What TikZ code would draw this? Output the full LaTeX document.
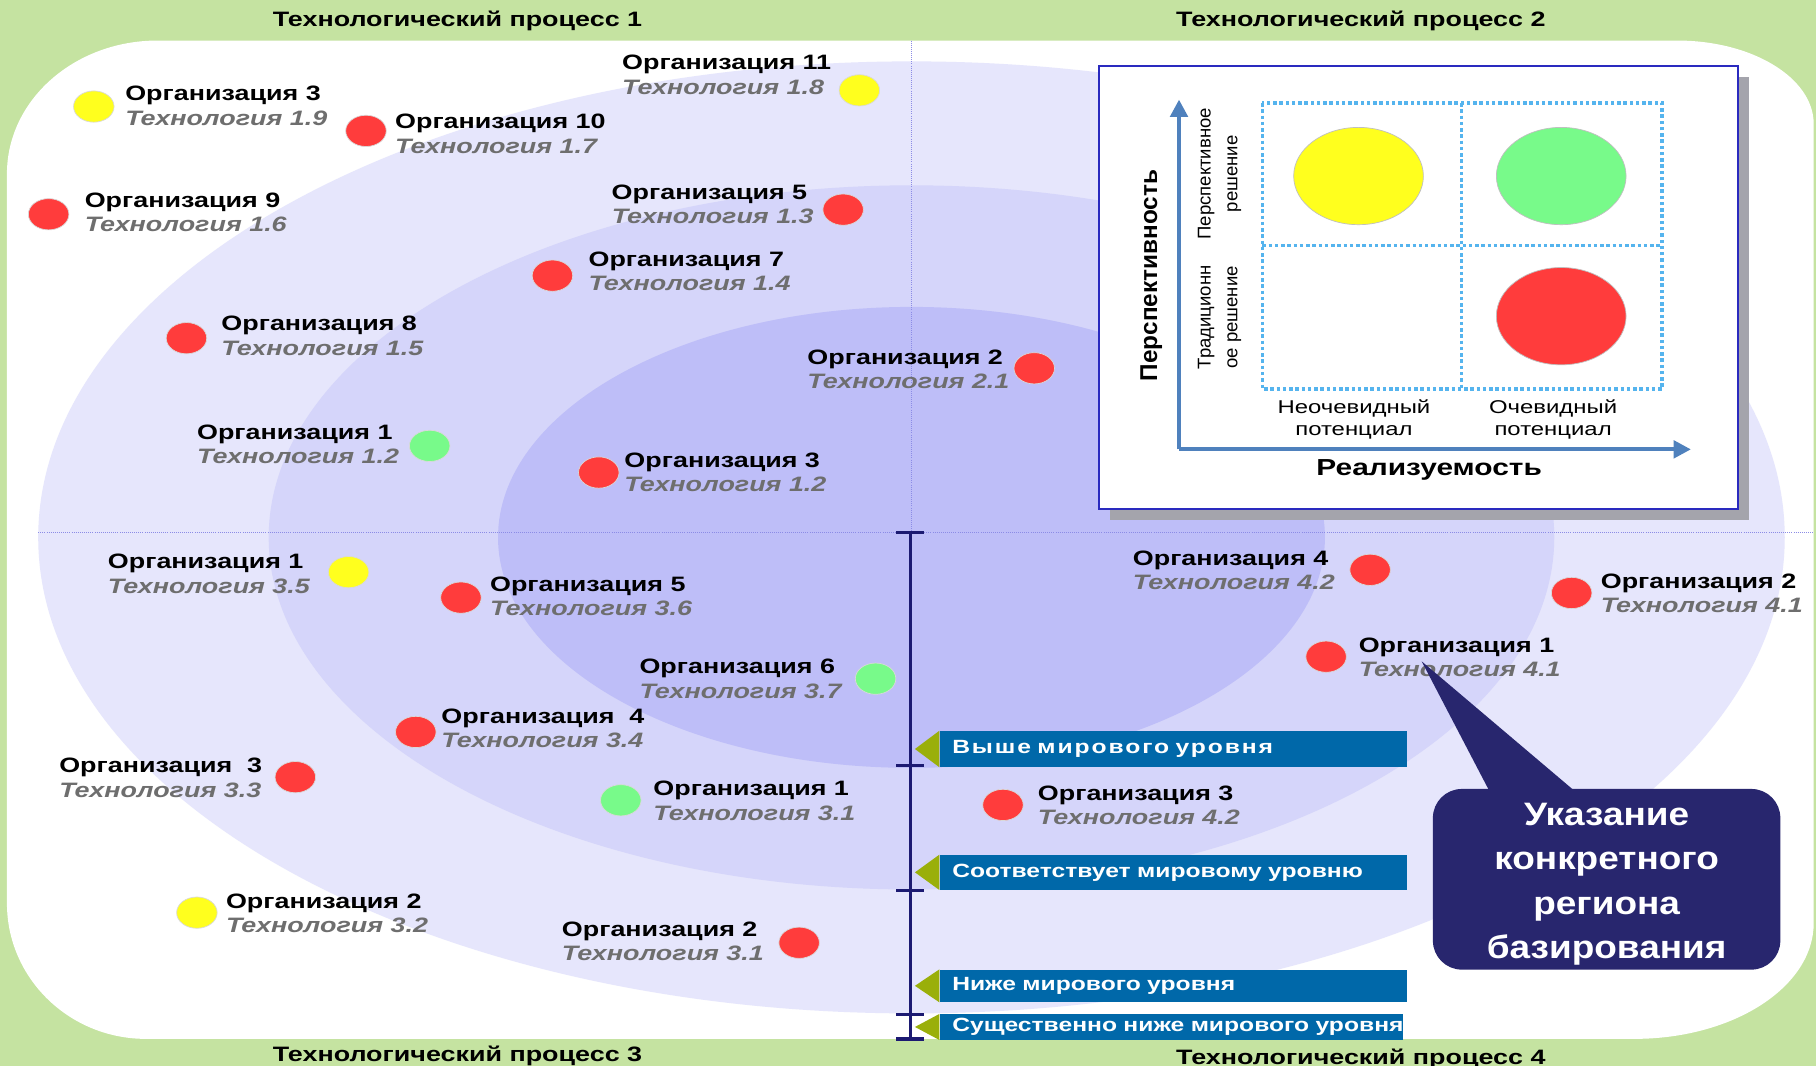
\documentclass[tikz,border=0pt]{standalone}
\usepackage{fontspec}
\setmainfont{Liberation Sans}
\newfontfamily\widefont{Liberation Sans}[FakeStretch=1.29]
\newfontfamily\wideloose{Liberation Sans}[FakeStretch=1.29,LetterSpace=10]
\newfontfamily\callfont{Liberation Sans}[FakeStretch=1.14]
\usetikzlibrary{shapes.geometric,arrows.meta}
\definecolor{bggreen}{HTML}{C5E3A1}
\definecolor{ringA}{HTML}{E6E6FC}
\definecolor{ringB}{HTML}{D5D5FA}
\definecolor{ringC}{HTML}{BEBEF8}
\definecolor{dotred}{HTML}{FF3C3C}
\definecolor{dotyellow}{HTML}{FFFF1E}
\definecolor{dotgreen}{HTML}{78FA8A}
\definecolor{techgray}{HTML}{6E6E6E}
\definecolor{bannerblue}{HTML}{0068A9}
\definecolor{tipgreen}{HTML}{9AAF0A}
\definecolor{navyline}{HTML}{1C1A72}
\definecolor{axisline}{HTML}{8C8CE6}
\definecolor{insetblue}{HTML}{2A2ABF}
\definecolor{axisblue}{HTML}{4F81BD}
\definecolor{griddot}{HTML}{55B4EE}
\definecolor{callnavy}{HTML}{28266E}
\definecolor{shadowgray}{HTML}{A4A4AC}
\newcommand\orgtext[2]{\textbf{#1}\\{\color{techgray}\bfseries\itshape #2}}
\begin{document}
\begin{tikzpicture}[x=1pt,y=-1pt,
  dotshape/.style={ellipse, inner sep=0pt, minimum width=35pt, minimum height=27pt, draw=black!15, line width=0.6pt},
  rdot/.style={dotshape, fill=dotred},
  ydot/.style={dotshape, fill=dotyellow},
  gdot/.style={dotshape, fill=dotgreen},
  orglab/.style={anchor=west, align=left, inner sep=0pt, font=\widefont\fontsize{18}{21}\selectfont},
  proctitle/.style={inner sep=0pt, font=\widefont\bfseries\fontsize{18}{20}\selectfont},
  banner/.style={fill=bannerblue, text=white, anchor=north west, inner xsep=11pt, inner ysep=0pt, text width=#1, align=left, font=\widefont\bfseries\fontsize{16.5}{18}\selectfont},
  tick/.style={navyline, line width=2.8pt},
  bigell/.style={ellipse, inner sep=0pt, minimum width=112pt, minimum height=84pt, draw=black!25, line width=0.6pt},
  rottext/.style={rotate=90, align=center, inner sep=0pt},
  gridline/.style={griddot, line width=3pt, dash pattern=on 3pt off 2.4pt},
  axisarrow/.style={axisblue, line width=3.5pt, -{Triangle[length=15pt,width=15pt]}}
]
\useasboundingbox (0,0) rectangle (1568,920);
\fill[bggreen] (0,0) rectangle (1568,920);
% white rounded panel
\fill[white] (6,150) .. controls (6,86.5) and (64.2,35) .. (136,35) -- (1448,35)
  .. controls (1513.1,35) and (1566,67.3) .. (1566,107) -- (1566,797)
  .. controls (1566,852.2) and (1496.6,897) .. (1411,897) -- (126,897)
  .. controls (59.8,897) and (6,844.6) .. (6,780) -- cycle;
% rings
\fill[ringA] (787,464) ellipse [x radius=754pt, y radius=411pt];
\fill[ringB] (787,464) ellipse [x radius=555pt, y radius=304pt];
\fill[ringC] (787,464) ellipse [x radius=357pt, y radius=199pt];
% dotted axes
\coordinate (hl) at (33,460);
\coordinate (hr) at (1566,460);
\coordinate (vt) at (787,35);
\coordinate (vc) at (787,460);
\draw[axisline, line width=0.8pt, densely dotted] (hl) -- (hr);
\draw[axisline, line width=0.8pt, densely dotted] (vt) -- (vc);
% titles
\node[proctitle] (t1) at (395,18) {Технологический процесс 1};
\node[proctitle] (t2) at (1175,18) {Технологический процесс 2};
\node[proctitle] (t3) at (395,912) {Технологический процесс 3};
\node[proctitle] (t4) at (1175,914) {Технологический процесс 4};
% navy scale
\coordinate (s0) at (786,460);
\coordinate (s1) at (786,661);
\coordinate (s2) at (786,769);
\coordinate (s3) at (786,876);
\coordinate (s4) at (786,897);
\draw[tick] (s0) -- (s4);
\foreach \s in {s0,s1,s2,s3,s4} \draw[tick] ([xshift=-12pt]\s) -- ([xshift=12pt]\s);
% banners
\node[banner=382pt, minimum height=31pt, font=\wideloose\bfseries\fontsize{16.5}{18}\selectfont] (b1) at (811,631) {\mbox{Выше мирового уровня}};
\node[banner=382pt, minimum height=30pt] (b2) at (811,738) {\mbox{Соответствует мировому уровню}};
\node[banner=382pt, minimum height=28pt] (b3) at (811,837) {\mbox{Ниже мирового уровня}};
\node[banner=378pt, minimum height=22pt] (b4) at (811,875.5) {\mbox{Существенно ниже мирового уровня}};
\foreach \b in {b1,b2,b3,b4} \fill[tipgreen] (\b.north west) -- (\b.south west) -- ([xshift=-21pt]\b.west) -- cycle;
% organisations
\node[ydot] (d1) at (81,92) {};
\node[orglab] (l1) at (108,91.5) {\orgtext{Организация 3}{Технология 1.9}};
\node[rdot] (d2) at (316,113) {};
\node[orglab] (l2) at (341,115.5) {\orgtext{Организация 10}{Технология 1.7}};
\node[ydot] (d3) at (742,78) {};
\node[orglab] (l3) at (537,64.5) {\orgtext{Организация 11}{Технология 1.8}};
\node[rdot] (d4) at (42,185) {};
\node[orglab] (l4) at (73,183.5) {\orgtext{Организация 9}{Технология 1.6}};
\node[rdot] (d5) at (728,181) {};
\node[orglab] (l5) at (528,176.5) {\orgtext{Организация 5}{Технология 1.3}};
\node[rdot] (d6) at (477,238) {};
\node[orglab] (l6) at (508,234.5) {\orgtext{Организация 7}{Технология 1.4}};
\node[rdot] (d7) at (161,292) {};
\node[orglab] (l7) at (191,290) {\orgtext{Организация 8}{Технология 1.5}};
\node[rdot] (d8) at (893,318) {};
\node[orglab] (l8) at (697,319) {\orgtext{Организация 2}{Технология 2.1}};
\node[gdot] (d9) at (371,385) {};
\node[orglab] (l9) at (170,383.5) {\orgtext{Организация 1}{Технология 1.2}};
\node[rdot] (d10) at (517,408) {};
\node[orglab] (l10) at (539,408) {\orgtext{Организация 3}{Технология 1.2}};
\node[ydot] (d11) at (301,494) {};
\node[orglab] (l11) at (93,495.5) {\orgtext{Организация 1}{Технология 3.5}};
\node[rdot] (d12) at (398,516) {};
\node[orglab] (l12) at (423,515) {\orgtext{Организация 5}{Технология 3.6}};
\node[gdot] (d13) at (756,586) {};
\node[orglab] (l13) at (552,586) {\orgtext{Организация 6}{Технология 3.7}};
\node[rdot] (d14) at (359,632) {};
\node[orglab] (l14) at (381,629) {\orgtext{Организация\hspace{0.35em} 4}{Технология 3.4}};
\node[rdot] (d15) at (255,671) {};
\node[orglab] (l15) at (51,671.5) {\orgtext{Организация\hspace{0.35em} 3}{Технология 3.3}};
\node[gdot] (d16) at (536,691) {};
\node[orglab] (l16) at (564,691.5) {\orgtext{Организация 1}{Технология 3.1}};
\node[ydot] (d17) at (170,788) {};
\node[orglab] (l17) at (195,788.5) {\orgtext{Организация 2}{Технология 3.2}};
\node[rdot] (d18) at (690,814) {};
\node[orglab] (l18) at (485,812.5) {\orgtext{Организация 2}{Технология 3.1}};
\node[rdot] (d19) at (1183,492) {};
\node[orglab] (l19) at (978,492.5) {\orgtext{Организация 4}{Технология 4.2}};
\node[rdot] (d20) at (1357,512) {};
\node[orglab] (l20) at (1382,512.5) {\orgtext{Организация 2}{Технология 4.1}};
\node[rdot] (d21) at (1145,567) {};
\node[orglab] (l21) at (1173,567.5) {\orgtext{Организация 1}{Технология 4.1}};
\node[rdot] (d22) at (866,695) {};
\node[orglab] (l22) at (896,695.5) {\orgtext{Организация 3}{Технология 4.2}};
% inset
\node[fill=shadowgray, minimum width=552pt, minimum height=383pt, anchor=north west, inner sep=0pt] (insetshadow) at (958,66) {};
\node[fill=white, draw=insetblue, line width=1.5pt, minimum width=552pt, minimum height=383pt, anchor=north west, inner sep=0pt] (inset) at (948,56) {};
\coordinate (orig) at (1018,388);
\coordinate (ytop) at (1018,86);
\coordinate (xend) at (1460,388);
\draw[axisarrow] (orig) -- (ytop);
\draw[axisarrow] (orig) -- (xend);
\coordinate (g1) at (1090,89);
\coordinate (g2) at (1435,336);
\coordinate (gmt) at (1262,89);
\coordinate (gmb) at (1262,336);
\coordinate (gml) at (1090,212);
\coordinate (gmr) at (1435,212);
\draw[gridline] (g1) rectangle (g2);
\draw[gridline] (gmt) -- (gmb);
\draw[gridline] (gml) -- (gmr);
\node[bigell, fill=dotyellow] (ey) at (1173,152) {};
\node[bigell, fill=dotgreen] (eg) at (1348,152) {};
\node[bigell, fill=dotred] (er) at (1348,273) {};
\node[rottext, font=\bfseries\fontsize{21}{24}\selectfont] (yl) at (994,238) {Перспективность};
\node[rottext, font=\fontsize{16}{23}\selectfont] (q1) at (1053,150) {Перспективное\\решение};
\node[rottext, font=\fontsize{16}{23}\selectfont] (q2) at (1053,274) {Традиционн\\ое решение};
\node[align=center, inner sep=0pt, font=\widefont\fontsize{16}{19}\selectfont] (p1) at (1169,362) {Неочевидный\\потенциал};
\node[align=center, inner sep=0pt, font=\widefont\fontsize{16}{19}\selectfont] (p2) at (1341,362) {Очевидный\\потенциал};
\node[inner sep=0pt, font=\widefont\bfseries\fontsize{20}{24}\selectfont] (xl) at (1234,406) {Реализуемость};
% callout
\node[fill=callnavy, rounded corners=25pt, minimum width=300pt, minimum height=156pt, anchor=north west, inner sep=0pt, text=white, align=center, font=\callfont\bfseries\fontsize{28}{38.5}\selectfont] (call) at (1237,681) {\vphantom{Ук}\\[-30pt]Указание\\конкретного\\региона\\базирования};
\coordinate (ctip) at (1227.5,571);
\fill[callnavy] ([xshift=50pt,yshift=-4pt]call.north west) -- (ctip) -- ([xshift=125pt,yshift=-4pt]call.north west) -- cycle;
\end{tikzpicture}
\end{document}
